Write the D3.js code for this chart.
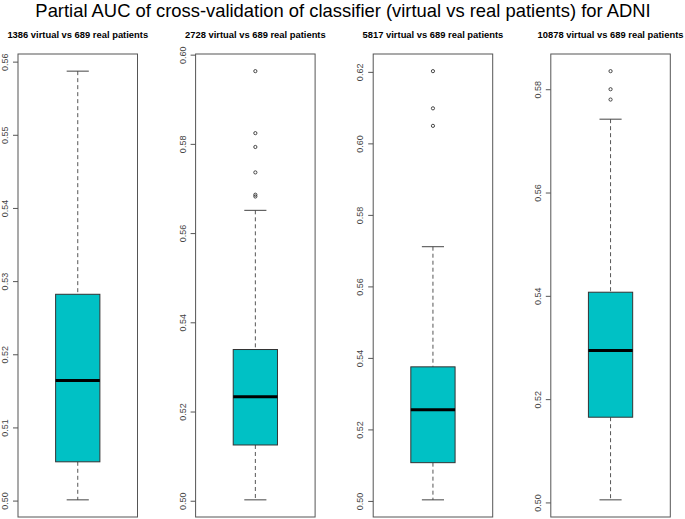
<!DOCTYPE html>
<html>
<head>
<meta charset="utf-8">
<script src="https://cdn.jsdelivr.net/npm/d3@7"></script>
<style>
  html, body { margin: 0; padding: 0; background: #fff; }
  svg { display: block; font-family: "Liberation Sans", Arial, Helvetica, sans-serif; }
</style>
</head>
<body>
<svg id="chart" width="685" height="519"></svg>
<script>
// ---- data ----
const mainTitle = "Partial AUC of cross-validation of classifier (virtual vs real patients) for ADNI";
const panelTitles = [
  "1386 virtual vs 689 real patients",
  "2728 virtual vs 689 real patients",
  "5817 virtual vs 689 real patients",
  "10878 virtual vs 689 real patients"
];
const lowerWhisker = [0.5001, 0.5002, 0.5003, 0.5005];
const q1           = [0.5053, 0.5125, 0.5107, 0.5165];
const medians      = [0.5164, 0.5233, 0.5255, 0.5294];
const q3           = [0.5282, 0.5339, 0.5375, 0.5407];
const upperWhisker = [0.5587, 0.5651, 0.5711, 0.5742];
const outliers = [
  [],
  [0.5963, 0.5824, 0.5793, 0.5736, 0.5686, 0.5682],
  [0.6202, 0.6098, 0.6049],
  [0.5835, 0.5800, 0.5780]
];
const tickValues = [
  [0.50, 0.51, 0.52, 0.53, 0.54, 0.55, 0.56],
  [0.50, 0.52, 0.54, 0.56, 0.58, 0.60],
  [0.50, 0.52, 0.54, 0.56, 0.58, 0.60, 0.62],
  [0.50, 0.52, 0.54, 0.56, 0.58]
];

// ---- layout ----
const svg = d3.select("#chart");
const W = 685;
const frameTop = 54, frameBottom = 517;
const firstLeft = 18, panelStep = 177.6, frameW = 119.5;
const fillColor = "#00C1C5";

const panelX = d3.scaleLinear().domain([0, 1]).range([firstLeft, firstLeft + panelStep]);

svg.append("text")
  .attr("x", W / 2 + 0.5).attr("y", 17)
  .attr("text-anchor", "middle")
  .attr("font-size", 18.4)
  .attr("fill", "#000")
  .text(mainTitle);

panelTitles.forEach((t, i) => {
  const left = panelX(i);
  const lo = Math.min(lowerWhisker[i], ...outliers[i]);
  const hi = Math.max(upperWhisker[i], ...outliers[i]);
  const ext = (hi - lo) * 0.04;
  const y = d3.scaleLinear().domain([lo - ext, hi + ext]).range([frameBottom, frameTop]);
  // x scale in R units: one box at 1, xlim 0.5..1.5 extended 4%
  const x = d3.scaleLinear().domain([0.46, 1.54]).range([left, left + frameW]);
  const g = svg.append("g");

  // panel title
  g.append("text")
    .attr("x", left + frameW / 2).attr("y", 38)
    .attr("text-anchor", "middle")
    .attr("font-size", 9.4).attr("font-weight", "bold")
    .attr("fill", "#000")
    .text(t);

  // y axis
  const axis = d3.axisLeft(y).tickValues(tickValues[i]).tickFormat(d3.format(".2f")).tickSize(5).tickPadding(4);
  const ag = g.append("g").attr("transform", `translate(${left},0)`).call(axis);
  ag.select(".domain").remove();
  ag.selectAll(".tick line").attr("stroke", "#555");
  ag.selectAll(".tick text")
    .attr("fill", "#444")
    .attr("font-size", 9)
    .attr("font-family", "'Liberation Sans', Arial, sans-serif")
    .attr("text-anchor", "middle")
    .attr("dy", null)
    .attr("x", null)
    .attr("transform", "translate(-13,0) rotate(-90)")
    .attr("dominant-baseline", "central");

  const boxHalf = 0.2, capHalf = 0.1;

  // whiskers (dashed)
  g.append("line")
    .attr("x1", x(1)).attr("x2", x(1))
    .attr("y1", y(upperWhisker[i])).attr("y2", y(q3[i]))
    .attr("stroke", "#555").attr("stroke-width", 1).attr("stroke-dasharray", "4,3");
  g.append("line")
    .attr("x1", x(1)).attr("x2", x(1))
    .attr("y1", y(q1[i])).attr("y2", y(lowerWhisker[i]))
    .attr("stroke", "#555").attr("stroke-width", 1).attr("stroke-dasharray", "4,3");
  // caps
  [upperWhisker[i], lowerWhisker[i]].forEach(v => {
    g.append("line")
      .attr("x1", x(1 - capHalf)).attr("x2", x(1 + capHalf))
      .attr("y1", y(v)).attr("y2", y(v))
      .attr("stroke", "#444").attr("stroke-width", 1);
  });
  // box
  g.append("rect")
    .attr("x", x(1 - boxHalf)).attr("width", x(1 + boxHalf) - x(1 - boxHalf))
    .attr("y", y(q3[i])).attr("height", y(q1[i]) - y(q3[i]))
    .attr("fill", fillColor).attr("stroke", "#333").attr("stroke-width", 1);
  // median
  g.append("line")
    .attr("x1", x(1 - boxHalf)).attr("x2", x(1 + boxHalf))
    .attr("y1", y(medians[i])).attr("y2", y(medians[i]))
    .attr("stroke", "#000").attr("stroke-width", 3);
  // outliers
  g.selectAll("circle.out").data(outliers[i]).join("circle")
    .attr("class", "out")
    .attr("cx", x(1)).attr("cy", d => y(d)).attr("r", 1.6)
    .attr("fill", "none").attr("stroke", "#333").attr("stroke-width", 0.9);

  // frame
  g.append("rect")
    .attr("x", left).attr("y", frameTop)
    .attr("width", frameW).attr("height", frameBottom - frameTop)
    .attr("fill", "none").attr("stroke", "#555").attr("stroke-width", 1);
});
</script>
</body>
</html>
